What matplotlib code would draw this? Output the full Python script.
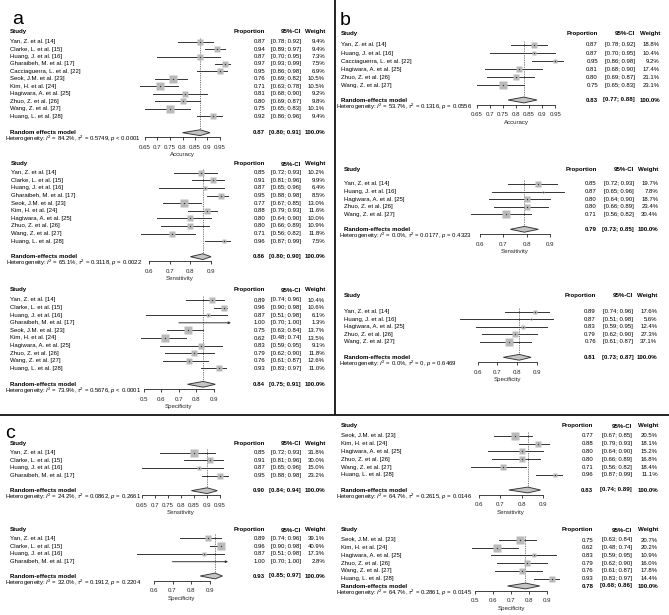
import matplotlib
matplotlib.use("Agg")
import matplotlib.pyplot as plt
from matplotlib import transforms
from matplotlib.patches import Polygon

W, H = 669, 615
plt.rcParams['font.family'] = ['Liberation Sans', 'DejaVu Sans']
plt.rcParams['mathtext.fontset'] = 'custom'
plt.rcParams['mathtext.rm'] = 'Liberation Sans'
plt.rcParams['mathtext.it'] = 'Liberation Sans:italic'
plt.rcParams['mathtext.bf'] = 'Liberation Sans:bold'

# ---------------- data ----------------
a_acc_study = ["Yan, Z. et al. [14]", "Clarke, L. et al. [15]", "Huang, J. et al. [16]",
               "Gharaibeh, M. et al. [17]", "Cacciaguerra, L. et al. [22]", "Seok, J.M. et al. [23]",
               "Kim, H. et al. [24]", "Hagiwara, A. et al. [25]", "Zhuo, Z. et al. [26]",
               "Wang, Z. et al. [27]", "Huang, L. et al. [28]"]
a_acc_est = [0.87, 0.94, 0.87, 0.97, 0.95, 0.76, 0.71, 0.81, 0.80, 0.75, 0.92]
a_acc_lo = [0.78, 0.89, 0.70, 0.93, 0.86, 0.69, 0.63, 0.68, 0.69, 0.65, 0.86]
a_acc_hi = [0.92, 0.97, 0.95, 0.99, 0.98, 0.82, 0.78, 0.90, 0.87, 0.83, 0.96]
a_acc_w = [9.4, 9.4, 7.3, 7.5, 6.9, 10.5, 10.5, 9.2, 9.8, 10.1, 9.4]
a_acc_pooled = (0.87, 0.80, 0.91)
a_acc_het = r"Heterogeneity: $I^2$ = 84.2%, $\tau^2$ = 0.5749, $p$ < 0.0001"

a_sens_study = ["Yan, Z. et al. [14]", "Clarke, L. et al. [15]", "Huang, J. et al. [16]",
                "Gharaibeh, M. et al. [17]", "Seok, J.M. et al. [23]", "Kim, H. et al. [24]",
                "Hagiwara, A. et al. [25]", "Zhuo, Z. et al. [26]", "Wang, Z. et al. [27]",
                "Huang, L. et al. [28]"]
a_sens_est = [0.85, 0.91, 0.87, 0.95, 0.77, 0.88, 0.80, 0.80, 0.71, 0.96]
a_sens_lo = [0.72, 0.81, 0.65, 0.88, 0.67, 0.79, 0.64, 0.66, 0.56, 0.87]
a_sens_hi = [0.93, 0.96, 0.96, 0.98, 0.85, 0.93, 0.90, 0.89, 0.82, 0.99]
a_sens_w = [10.2, 9.9, 6.4, 8.5, 13.0, 11.6, 10.0, 10.9, 11.8, 7.5]
a_sens_pooled = (0.86, 0.80, 0.90)
a_sens_het = r"Heterogeneity: $I^2$ = 65.1%, $\tau^2$ = 0.3118, $p$ = 0.0022"

a_spec_study = a_sens_study
a_spec_est = [0.89, 0.96, 0.87, 1.00, 0.75, 0.62, 0.83, 0.79, 0.76, 0.93]
a_spec_lo = [0.74, 0.90, 0.51, 0.70, 0.63, 0.48, 0.59, 0.62, 0.61, 0.83]
a_spec_hi = [0.96, 0.98, 0.98, 1.00, 0.84, 0.74, 0.95, 0.90, 0.87, 0.97]
a_spec_w = [10.4, 10.6, 6.1, 1.3, 13.7, 13.5, 9.1, 11.8, 12.6, 11.0]
a_spec_pooled = (0.84, 0.75, 0.91)
a_spec_het = r"Heterogeneity: $I^2$ = 73.9%, $\tau^2$ = 0.5676, $p$ < 0.0001"

b_acc_study = ["Yan, Z. et al. [14]", "Huang, J. et al. [16]", "Cacciaguerra, L. et al. [22]",
               "Hagiwara, A. et al. [25]", "Zhuo, Z. et al. [26]", "Wang, Z. et al. [27]"]
b_acc_est = [0.87, 0.87, 0.95, 0.81, 0.80, 0.75]
b_acc_lo = [0.78, 0.70, 0.86, 0.68, 0.69, 0.65]
b_acc_hi = [0.92, 0.95, 0.98, 0.90, 0.87, 0.83]
b_acc_w = [18.8, 10.4, 9.2, 17.4, 21.1, 23.1]
b_acc_pooled = (0.83, 0.77, 0.88)
b_acc_het = r"Heterogeneity: $I^2$ = 53.7%, $\tau^2$ = 0.1316, $p$ = 0.0556"

b_sens_study = ["Yan, Z. et al. [14]", "Huang, J. et al. [16]", "Hagiwara, A. et al. [25]",
                "Zhuo, Z. et al. [26]", "Wang, Z. et al. [27]"]
b_sens_est = [0.85, 0.87, 0.80, 0.80, 0.71]
b_sens_lo = [0.72, 0.65, 0.64, 0.66, 0.56]
b_sens_hi = [0.93, 0.96, 0.90, 0.89, 0.82]
b_sens_w = [19.7, 7.8, 18.7, 23.4, 30.4]
b_sens_pooled = (0.79, 0.73, 0.85)
b_sens_het = r"Heterogeneity: $I^2$ = 0.0%, $\tau^2$ = 0.0177, $p$ = 0.4323"

b_spec_study = b_sens_study
b_spec_est = [0.89, 0.87, 0.83, 0.79, 0.76]
b_spec_lo = [0.74, 0.51, 0.59, 0.62, 0.61]
b_spec_hi = [0.96, 0.98, 0.95, 0.90, 0.87]
b_spec_w = [17.6, 5.6, 12.4, 27.3, 37.1]
b_spec_pooled = (0.81, 0.73, 0.87)
b_spec_het = r"Heterogeneity: $I^2$ = 0.0%, $\tau^2$ = 0, $p$ = 0.6469"

c_sens_study = ["Yan, Z. et al. [14]", "Clarke, L. et al. [15]", "Huang, J. et al. [16]",
                "Gharaibeh, M. et al. [17]"]
c_sens_est = [0.85, 0.91, 0.87, 0.95]
c_sens_lo = [0.72, 0.81, 0.65, 0.88]
c_sens_hi = [0.93, 0.96, 0.96, 0.98]
c_sens_w = [31.8, 30.0, 15.0, 23.2]
c_sens_pooled = (0.90, 0.84, 0.94)
c_sens_het = r"Heterogeneity: $I^2$ = 24.2%, $\tau^2$ = 0.0862, $p$ = 0.2661"

c_spec_study = c_sens_study
c_spec_est = [0.89, 0.96, 0.87, 1.00]
c_spec_lo = [0.74, 0.90, 0.51, 0.70]
c_spec_hi = [0.96, 0.98, 0.98, 1.00]
c_spec_w = [39.1, 40.9, 17.3, 2.8]
c_spec_pooled = (0.93, 0.85, 0.97)
c_spec_het = r"Heterogeneity: $I^2$ = 32.0%, $\tau^2$ = 0.1912, $p$ = 0.2204"

d_sens_study = ["Seok, J.M. et al. [23]", "Kim, H. et al. [24]", "Hagiwara, A. et al. [25]",
                "Zhuo, Z. et al. [26]", "Wang, Z. et al. [27]", "Huang, L. et al. [28]"]
d_sens_est = [0.77, 0.88, 0.80, 0.80, 0.71, 0.96]
d_sens_lo = [0.67, 0.79, 0.64, 0.66, 0.56, 0.87]
d_sens_hi = [0.85, 0.93, 0.90, 0.89, 0.82, 0.99]
d_sens_w = [20.5, 18.1, 15.2, 16.8, 18.4, 11.1]
d_sens_pooled = (0.83, 0.74, 0.89)
d_sens_het = r"Heterogeneity: $I^2$ = 64.7%, $\tau^2$ = 0.2615, $p$ = 0.0146"

d_spec_study = d_sens_study
d_spec_est = [0.75, 0.62, 0.83, 0.79, 0.76, 0.93]
d_spec_lo = [0.63, 0.48, 0.59, 0.62, 0.61, 0.83]
d_spec_hi = [0.84, 0.74, 0.95, 0.90, 0.87, 0.97]
d_spec_w = [20.7, 20.2, 10.9, 16.0, 17.8, 14.4]
d_spec_pooled = (0.78, 0.68, 0.86)
d_spec_het = r"Heterogeneity: $I^2$ = 64.7%, $\tau^2$ = 0.2861, $p$ = 0.0145"

ticks_acc = [0.65, 0.7, 0.75, 0.8, 0.85, 0.9, 0.95]
ticks_6 = [0.6, 0.7, 0.8, 0.9]
ticks_5 = [0.5, 0.6, 0.7, 0.8, 0.9]

# ---------------- style ----------------
FS = 4.3
FSB = 4.45
FSH = 4.35
LC = '#333333'
SQ = '#bababa'
MAXBOX = 7.2

fig = plt.figure(figsize=(W / 100, H / 100), dpi=100)

# layout axes (pixel coordinates) for frames
lay = fig.add_axes([0, 0, 1, 1])
lay.set_xlim(0, W)
lay.set_ylim(H, 0)
lay.axis('off')
lay.plot([335, 335], [0, 415], color='#111111', lw=1.3, solid_capstyle='butt')
lay.plot([0, W], [415, 415], color='#111111', lw=1.3, solid_capstyle='butt')

fig.text(12 / W, 1 - 24 / H, 'a', fontsize=14, va='baseline')
fig.text(340 / W, 1 - 25 / H, 'b', fontsize=14, va='baseline')
fig.text(5 / W, 1 - 438 / H, 'c', fontsize=14, va='baseline')


def forest(study, est, lo, hi, wt, pooled, het, xlabel, ticks, model_label, L):
    x0 = L['c'] + (ticks[0] - 0.8) * L['s']
    x1 = L['c'] + (ticks[-1] - 0.8) * L['s']
    y_axis = L['pool'] + 4.5
    y_top = L['header'] - 4
    ax = fig.add_axes([x0 / W, 1 - y_axis / H, (x1 - x0) / W, (y_axis - y_top) / H])
    ax.set_xlim(ticks[0], ticks[-1])
    ax.set_ylim(y_axis, y_top)
    ax.patch.set_visible(False)
    for sp in ['top', 'left', 'right']:
        ax.spines[sp].set_visible(False)
    ax.spines['bottom'].set_linewidth(0.6)
    ax.spines['bottom'].set_color('#222222')
    ax.set_yticks([])
    ax.set_xticks(ticks)
    ax.set_xticklabels([f"{t:g}" for t in ticks])
    ax.tick_params(axis='x', direction='out', length=2.4, width=0.6, labelsize=4.4,
                   pad=3.3, colors='#222222')
    ax.set_xlabel(xlabel, fontsize=4.4, labelpad=1.6, color='#222222')

    tr = transforms.blended_transform_factory(fig.transFigure, ax.transData)
    sx = L['sx'] / W
    px = L['prop'] / W
    cx = L['ci'] / W
    wx = L['wt'] / W
    # header
    hy = L['header']
    ax.text(sx, hy, "Study", transform=tr, ha='left', va='center', fontsize=FSB, fontweight='bold')
    ax.text(px, hy, "Proportion", transform=tr, ha='right', va='center', fontsize=FSB, fontweight='bold')
    ax.text(cx, hy, "95%-CI", transform=tr, ha='right', va='center', fontsize=FSB, fontweight='bold')
    ax.text(wx + 0.4 / W, hy, "Weight", transform=tr, ha='right', va='center', fontsize=FSB, fontweight='bold')

    wmax = max(wt)
    for i, (n, e, l, h, w) in enumerate(zip(study, est, lo, hi, wt)):
        y = L['first'] + i * L['dy']
        ax.text(sx, y, n, transform=tr, ha='left', va='center', fontsize=FS)
        ax.text(px, y, f"{e:.2f}", transform=tr, ha='right', va='center', fontsize=FS)
        ax.text(cx, y, f"[{l:.2f}; {h:.2f}]", transform=tr, ha='right', va='center', fontsize=FS)
        ax.text(wx, y, f"{w:.1f}%", transform=tr, ha='right', va='center', fontsize=FS)
        if h >= 0.995:
            ax.annotate('', xy=(h, y), xytext=(l, y), annotation_clip=False,
                        arrowprops=dict(arrowstyle='-|>', lw=0.7, color=LC,
                                        mutation_scale=3, shrinkA=0, shrinkB=0))
        else:
            ax.plot([l, h], [y, y], color=LC, lw=0.7, clip_on=False, zorder=2)
        if e < 0.995:
            side = MAXBOX * (w / wmax) ** 0.7
            ax.plot([e], [y], marker='s', ms=side * 0.72, color=SQ, mec='none',
                    clip_on=False, zorder=3)
            ax.plot([e], [y], marker='o', ms=1.0, color='#333333', mec='none',
                    clip_on=False, zorder=4)

    pe, pl, ph = pooled
    yp = L['pool']
    ax.plot([pe, pe], [L['first'] - 4, yp], color='#555555', lw=0.55,
            ls=(0, (1.6, 1.4)), clip_on=False, zorder=1)
    dia = Polygon([(pl, yp), (pe, yp - 2.9), (ph, yp), (pe, yp + 2.9)], closed=True,
                  facecolor='#c4c4c4', edgecolor='#333333', lw=0.65, clip_on=False, zorder=3)
    ax.add_patch(dia)
    ax.text(sx, yp, model_label, transform=tr, ha='left', va='center', fontsize=FSB, fontweight='bold')
    ax.text(px, yp, f"{pe:.2f}", transform=tr, ha='right', va='center', fontsize=FSB, fontweight='bold')
    ax.text(cx, yp, f"[{pl:.2f}; {ph:.2f}]", transform=tr, ha='right', va='center', fontsize=FSB, fontweight='bold')
    ax.text(wx + 0.4 / W, yp, "100.0%", transform=tr, ha='right', va='center', fontsize=FSB, fontweight='bold')
    ax.text((L['sx'] - 5) / W, yp + 6.6, het, transform=tr, ha='left', va='center', fontsize=FSH)
    return ax


RE = "Random-effects model"

forest(a_acc_study, a_acc_est, a_acc_lo, a_acc_hi, a_acc_w, a_acc_pooled, a_acc_het,
       "Accuracy", ticks_acc, "Random effects model",
       dict(sx=10, header=31.5, first=41.7, dy=7.43, pool=132.7, c=182.5, s=250,
            prop=265, ci=301, wt=325))
forest(a_sens_study, a_sens_est, a_sens_lo, a_sens_hi, a_sens_w, a_sens_pooled, a_sens_het,
       "Sensitivity", ticks_6, RE,
       dict(sx=11, header=164, first=172.7, dy=7.6, pool=256.7, c=190.4, s=207,
            prop=265, ci=301, wt=325))
forest(a_spec_study, a_spec_est, a_spec_lo, a_spec_hi, a_spec_w, a_spec_pooled, a_spec_het,
       "Specificity", ticks_5, RE,
       dict(sx=10, header=290, first=300, dy=7.6, pool=384.3, c=196.2, s=173.5,
            prop=265, ci=301, wt=325))
forest(b_acc_study, b_acc_est, b_acc_lo, b_acc_hi, b_acc_w, b_acc_pooled, b_acc_het,
       "Accuracy", ticks_acc, RE,
       dict(sx=341, header=33.3, first=45, dy=8.1, pool=100, c=516, s=262,
            prop=598, ci=635, wt=660))
forest(b_sens_study, b_sens_est, b_sens_lo, b_sens_hi, b_sens_w, b_sens_pooled, b_sens_het,
       "Sensitivity", ticks_6, RE,
       dict(sx=344, header=169.3, first=184, dy=7.6, pool=229.3, c=526.7, s=233,
            prop=596.7, ci=634, wt=658.3))
forest(b_spec_study, b_spec_est, b_spec_lo, b_spec_hi, b_spec_w, b_spec_pooled, b_spec_het,
       "Specificity", ticks_6, RE,
       dict(sx=344, header=296, first=311.7, dy=7.5, pool=357.3, c=517.2, s=198,
            prop=596, ci=633.3, wt=657.3))
forest(c_sens_study, c_sens_est, c_sens_lo, c_sens_hi, c_sens_w, c_sens_pooled, c_sens_het,
       "Sensitivity", ticks_acc, RE,
       dict(sx=10, header=443.3, first=452.7, dy=7.6, pool=490.7, c=181, s=260,
            prop=265, ci=301, wt=325))
forest(c_spec_study, c_spec_est, c_spec_lo, c_spec_hi, c_spec_w, c_spec_pooled, c_spec_het,
       "Specificity", ticks_6, RE,
       dict(sx=10, header=530, first=538.3, dy=7.8, pool=576, c=191, s=185,
            prop=265, ci=301, wt=325))
forest(d_sens_study, d_sens_est, d_sens_lo, d_sens_hi, d_sens_w, d_sens_pooled, d_sens_het,
       "Sensitivity", ticks_6, RE,
       dict(sx=341, header=426, first=435.7, dy=7.85, pool=490, c=521.5, s=211,
            prop=593.3, ci=631.7, wt=657.7))
forest(d_spec_study, d_spec_est, d_spec_lo, d_spec_hi, d_spec_w, d_spec_pooled, d_spec_het,
       "Specificity", ticks_5, RE,
       dict(sx=341, header=530, first=540, dy=7.7, pool=586, c=529, s=179,
            prop=593.3, ci=631.7, wt=657.7))

fig.savefig("out.png", dpi=100)
